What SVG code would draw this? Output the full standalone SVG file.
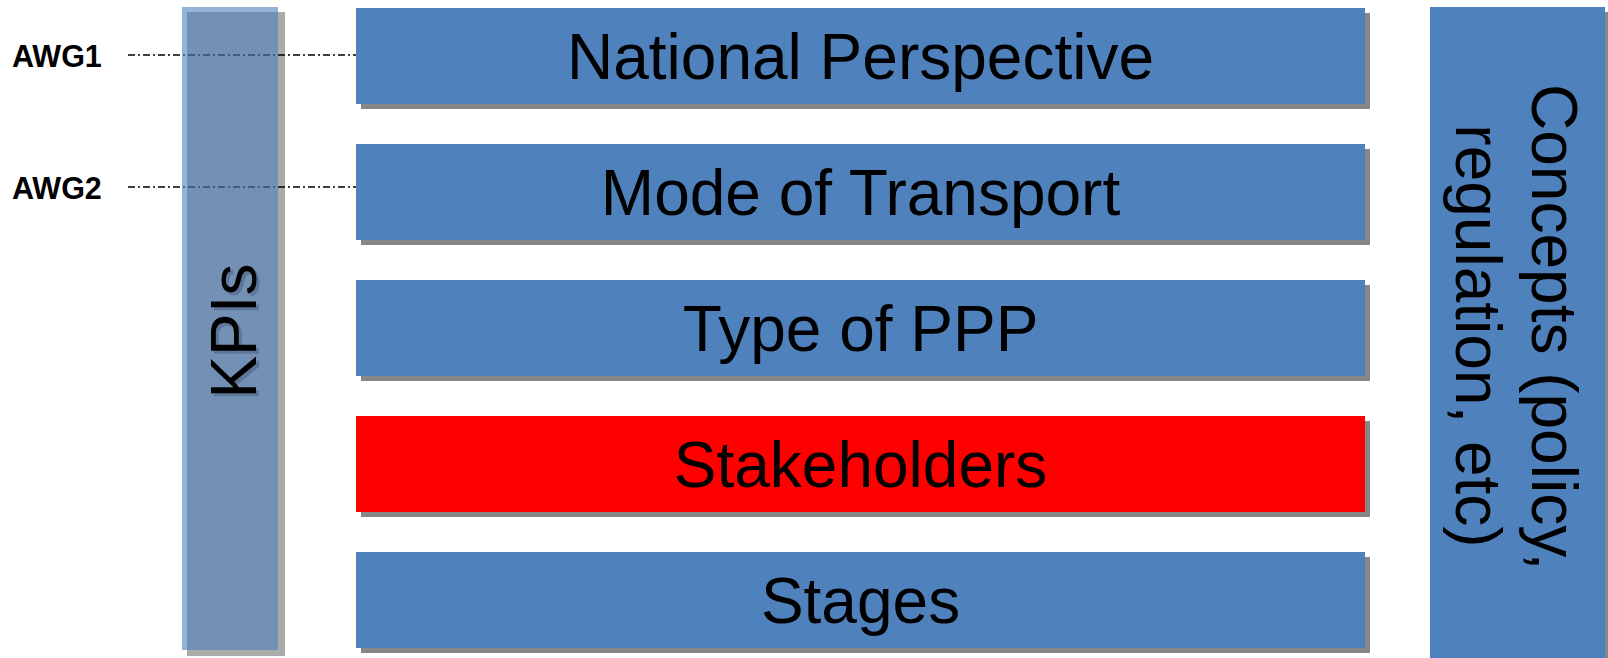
<svg xmlns="http://www.w3.org/2000/svg" width="1608" height="658" viewBox="0 0 1608 658">
  <style>
    .box { fill: #4F81BD; }
    .hot { fill: #FF0000; }
    .shadow { fill: #878787; }
    .label { font-family: "Liberation Sans", Arial, sans-serif; font-size: 64px; fill: #000; text-anchor: middle; }
    .awg { font-family: "Liberation Sans", Arial, sans-serif; font-size: 30.5px; font-weight: bold; fill: #000; }
    .leader { stroke: #000; stroke-width: 1.4; stroke-dasharray: 7 3 2 3; fill: none; }
  </style>
  <rect width="1608" height="658" fill="#FFFFFF"/>

  <!-- leader lines from the working-group tags to the layers -->
  <g id="connectors">
    <line class="leader" x1="128" y1="55" x2="356" y2="55"/>
    <line class="leader" x1="128" y1="187" x2="356" y2="187"/>
  </g>

  <g id="awg1">
    <text class="awg" x="12" y="67">AWG1</text>
  </g>
  <g id="awg2">
    <text class="awg" x="12" y="199">AWG2</text>
  </g>

  <!-- translucent KPI column spanning all layers -->
  <g id="kpis">
    <rect x="187" y="12" width="98" height="644" fill="#000000" fill-opacity="0.33"/>
    <rect x="182" y="7" width="96" height="643" fill="#4F81BD" fill-opacity="0.6"/>
    <text class="label" transform="translate(259,334) rotate(-90)" style="fill:#5E7597">KPIs</text>
    <text class="label" transform="translate(256,331) rotate(-90)">KPIs</text>
  </g>

  <g id="national-perspective">
    <rect class="shadow" x="361" y="13" width="1009" height="96"/>
    <rect class="box" x="356" y="8" width="1009" height="96"/>
    <text class="label" x="860.5" y="79">National Perspective</text>
  </g>

  <g id="mode-of-transport">
    <rect class="shadow" x="361" y="149" width="1009" height="96"/>
    <rect class="box" x="356" y="144" width="1009" height="96"/>
    <text class="label" x="860.5" y="215">Mode of Transport</text>
  </g>

  <g id="type-of-ppp">
    <rect class="shadow" x="361" y="285" width="1009" height="96"/>
    <rect class="box" x="356" y="280" width="1009" height="96"/>
    <text class="label" x="860.5" y="351">Type of PPP</text>
  </g>

  <g id="stakeholders">
    <rect class="shadow" x="361" y="421" width="1009" height="96"/>
    <rect class="hot" x="356" y="416" width="1009" height="96"/>
    <text class="label" x="860.5" y="487">Stakeholders</text>
  </g>

  <g id="stages">
    <rect class="shadow" x="361" y="557" width="1009" height="96"/>
    <rect class="box" x="356" y="552" width="1009" height="96"/>
    <text class="label" x="860.5" y="623">Stages</text>
  </g>

  <!-- concepts column on the right -->
  <g id="concepts">
    <rect class="shadow" x="1435" y="12" width="175" height="650"/>
    <rect class="box" x="1430" y="7" width="175" height="651"/>
    <text class="label" transform="translate(1532,336) rotate(90)">
      <tspan x="0" dy="0">Concepts (policy,</tspan>
      <tspan x="0" dy="76">regulation, etc)</tspan>
    </text>
  </g>
</svg>
